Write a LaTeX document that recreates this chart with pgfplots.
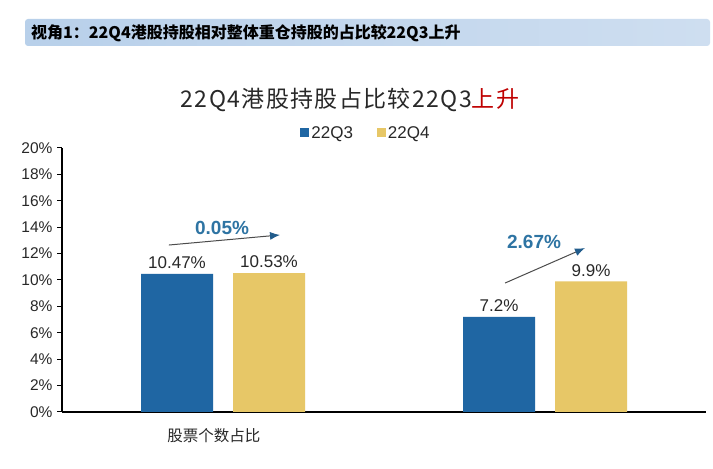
\documentclass[border=0pt]{standalone}
\usepackage{fontspec}
\setmainfont{Liberation Sans}
\newfontfamily\cjk{Noto Sans CJK SC}
\usepackage{pgfplots}
\pgfplotsset{compat=1.18}
\usetikzlibrary{arrows.meta}
\definecolor{barblue}{RGB}{31,102,163}
\definecolor{bargold}{RGB}{231,199,103}
\definecolor{hdrA}{RGB}{184,208,234}
\definecolor{hdrB}{RGB}{206,222,240}
\definecolor{annblue}{RGB}{46,116,163}
\definecolor{arrowblue}{RGB}{33,92,140}
\definecolor{txt}{RGB}{40,40,40}
\begin{document}
\begin{tikzpicture}
\useasboundingbox (0pt,0pt) rectangle (713pt,469pt);
\fill[white] (0pt,0pt) rectangle (713pt,469pt);
\shade[left color=hdrA, right color=hdrB, rounded corners=3pt] (25pt,423pt) rectangle (710pt,450pt);
\node[anchor=west, inner sep=0pt] at (31pt,436pt) {\cjk\bfseries\fontsize{16}{18}\selectfont 视角1：22Q4港股持股相对整体重仓持股的占比较22Q3上升};
\node[inner sep=0pt, text=txt] at (350pt,369pt) {\cjk\addfontfeatures{LetterSpace=6}\fontsize{23}{25}\selectfont 22Q4港股持股占比较22Q3\textcolor{red!75!black}{上升}};
\begin{axis}[
  at={(62pt,57pt)}, anchor=south west,
  scale only axis, width=644pt, height=264pt,
  xmin=-0.5, xmax=1.5, ymin=0, ymax=20,
  ybar=20pt, bar width=72pt,
  axis x line*=bottom, axis y line*=left,
  axis line style={black, line width=1.1pt, -},
  ytick={0,2,...,20},
  yticklabel={\pgfmathprintnumber{\tick}\%},
  /pgf/number format/assume math mode=true,
  yticklabel style={font=\fontsize{15.5}{17}\selectfont, text=txt, xshift=-1pt},
  ytick style={black, line width=1pt},
  tick align=outside, major tick length=5pt,
  xtick={0,1}, xticklabels={{\cjk 股票个数占比},{}},
  xtick style={draw=none},
  xticklabel style={font=\fontsize{15.5}{17}\selectfont, text=txt, yshift=-8pt, xshift=-9pt},
  clip=false,
  legend columns=2,
  legend style={at={(0.472,1.057)}, anchor=center, draw=none, fill=none,
    font=\fontsize{17}{19}\selectfont, text=txt,
    /tikz/every even column/.append style={column sep=22pt}},
  legend image code/.code={\fill[#1,draw=none] (0pt,-4.5pt) rectangle (9pt,4.5pt);},
  point meta=explicit symbolic,
  nodes near coords,
  nodes near coords style={font=\fontsize{17}{19}\selectfont, text=txt, anchor=south, yshift=1.5pt},
]
\addplot[fill=barblue, draw=none]
  coordinates {(0,10.47) [10.47\%] (1,7.2) [7.2\%]};
\addlegendentry{22Q3}
\addplot[fill=bargold, draw=none]
  coordinates {(0,10.53) [10.53\%] (1,9.9) [9.9\%]};
\addlegendentry{22Q4}
\draw[gray!60!black, line width=1pt, -{Latex[length=10pt,width=8pt,color=arrowblue]}]
  (axis cs:-0.168,12.65) -- (axis cs:0.177,13.41);
\draw[gray!60!black, line width=1pt, -{Latex[length=10pt,width=8pt,color=arrowblue]}]
  (axis cs:0.876,9.77) -- (axis cs:1.124,12.42);
\node[text=annblue, font=\bfseries\fontsize{19}{21}\selectfont] at (axis cs:-0.003,13.94) {0.05\%};
\node[text=annblue, font=\bfseries\fontsize{19}{21}\selectfont] at (axis cs:0.966,12.88) {2.67\%};
\end{axis}
\end{tikzpicture}
\end{document}
